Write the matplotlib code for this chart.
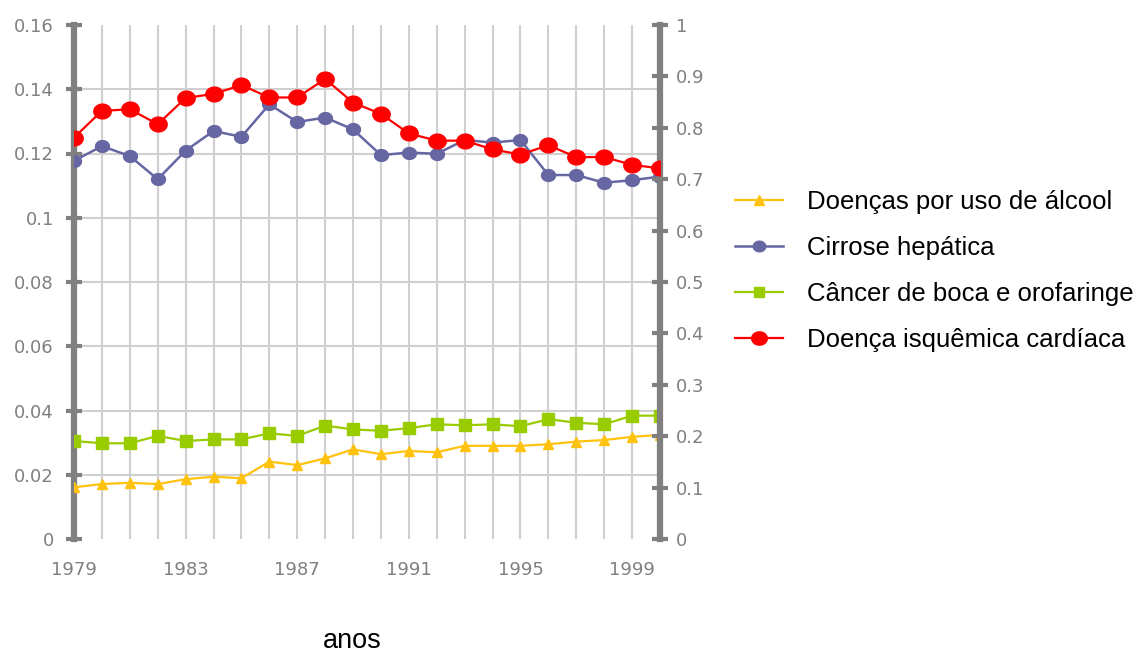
import matplotlib
matplotlib.use("Agg")
import numpy as np
import matplotlib.pyplot as plt
from matplotlib.path import Path

years = list(range(1979, 2001))
alcool = [0.0161, 0.0171, 0.0175, 0.0171, 0.0186, 0.0194, 0.0189, 0.0241, 0.0230, 0.0251,
          0.0279, 0.0264, 0.0274, 0.0270, 0.0290, 0.0290, 0.0290, 0.0295, 0.0303, 0.0308,
          0.0318, 0.0324]
cirrose = [0.1177, 0.1223, 0.1192, 0.1120, 0.1209, 0.1270, 0.1252, 0.1353, 0.1298, 0.1312,
           0.1275, 0.1195, 0.1203, 0.1199, 0.1242, 0.1234, 0.1242, 0.1133, 0.1133, 0.1109,
           0.1117, 0.1128]
cancer = [0.0305, 0.0298, 0.0298, 0.0321, 0.0305, 0.0310, 0.0310, 0.0329, 0.0321, 0.0353,
          0.0341, 0.0337, 0.0345, 0.0357, 0.0354, 0.0357, 0.0351, 0.0373, 0.0362, 0.0357,
          0.0384, 0.0384]
cardiaca = [0.781, 0.833, 0.836, 0.807, 0.858, 0.866, 0.883, 0.859, 0.859, 0.895,
            0.849, 0.827, 0.789, 0.775, 0.775, 0.758, 0.748, 0.766, 0.743, 0.743,
            0.728, 0.721]

labels = ["Doenças por uso de álcool", "Cirrose hepática",
          "Câncer de boca e orofaringe", "Doença isquêmica cardíaca"]
left_ticks = [0, 0.02, 0.04, 0.06, 0.08, 0.1, 0.12, 0.14, 0.16]
left_ticklabels = ["0", "0.02", "0.04", "0.06", "0.08", "0.1", "0.12", "0.14", "0.16"]
right_ticks = [0, 0.1, 0.2, 0.3, 0.4, 0.5, 0.6, 0.7, 0.8, 0.9, 1.0]
right_ticklabels = ["0", "0.1", "0.2", "0.3", "0.4", "0.5", "0.6", "0.7", "0.8", "0.9", "1"]
x_ticks = [1979, 1983, 1987, 1991, 1995, 1999]

c_yel = "#FFC20E"
c_blue = "#6666A3"
c_green = "#99CC00"
c_red = "#FF0000"
gray = "#808080"
grid = "#D0D0D0"

# slightly wide ellipse marker (reference image is stretched horizontally)
t = np.linspace(0, 2 * np.pi, 60)
ellipse = Path(np.column_stack([np.cos(t), 0.85 * np.sin(t)]), closed=True)

fig = plt.figure(figsize=(11.47, 6.53), dpi=100)
ax = fig.add_axes([74/1147, 1-539/653, (660-74)/1147, (539-25)/653])
ax.set_xlim(1979, 2000)
ax.set_ylim(0, 0.16)

for y in left_ticks[1:-1]:
    ax.axhline(y, color=grid, lw=1.5, zorder=0)
for x in years:
    ax.axvline(x, color=grid, lw=1.5, zorder=0)

l1, = ax.plot(years, alcool, color=c_yel, lw=1.6, marker="^", ms=7.5, zorder=3)
l2, = ax.plot(years, cirrose, color=c_blue, lw=1.8, marker=ellipse, ms=10, zorder=3)
l3, = ax.plot(years, cancer, color=c_green, lw=1.6, marker="s", ms=8, zorder=3)

for s in ["top", "bottom", "right"]:
    ax.spines[s].set_visible(False)
ax.spines["left"].set_color(gray)
ax.spines["left"].set_linewidth(4.5)
ax.set_yticks(left_ticks)
ax.set_yticklabels(left_ticklabels)
ax.tick_params(axis="y", direction="inout", length=11, width=3, color=gray,
               labelcolor=gray, labelsize=13, pad=9)
ax.set_xticks(x_ticks)
ax.set_xticklabels([str(v) for v in x_ticks])
ax.tick_params(axis="x", length=0, labelcolor=gray, labelsize=13, pad=16)

ax2 = ax.twinx()
ax2.set_ylim(0, 1)
l4, = ax2.plot(years, cardiaca, color=c_red, lw=1.6, marker=ellipse, ms=12.5, zorder=4)
for s in ["top", "bottom", "left"]:
    ax2.spines[s].set_visible(False)
ax2.spines["right"].set_color(gray)
ax2.spines["right"].set_linewidth(4.5)
ax2.set_yticks(right_ticks)
ax2.set_yticklabels(right_ticklabels)
ax2.tick_params(axis="y", direction="inout", length=11, width=3, color=gray,
                labelcolor=gray, labelsize=13, pad=6)

fig.text(352/1147, 1-641/653, "anos", fontsize=19.5, family="Liberation Sans",
         ha="center", va="center", color="black")

fig.legend([l1, l2, l3, l4], labels, loc="upper left",
           bbox_to_anchor=(735/1147, 1-190/653), frameon=False,
           prop={"family": "Liberation Sans", "size": 18.5},
           handlelength=1.87, labelspacing=0.85, handletextpad=0.93,
           borderpad=0, borderaxespad=0, markerscale=0.9)

fig.savefig("out.png", dpi=100)
